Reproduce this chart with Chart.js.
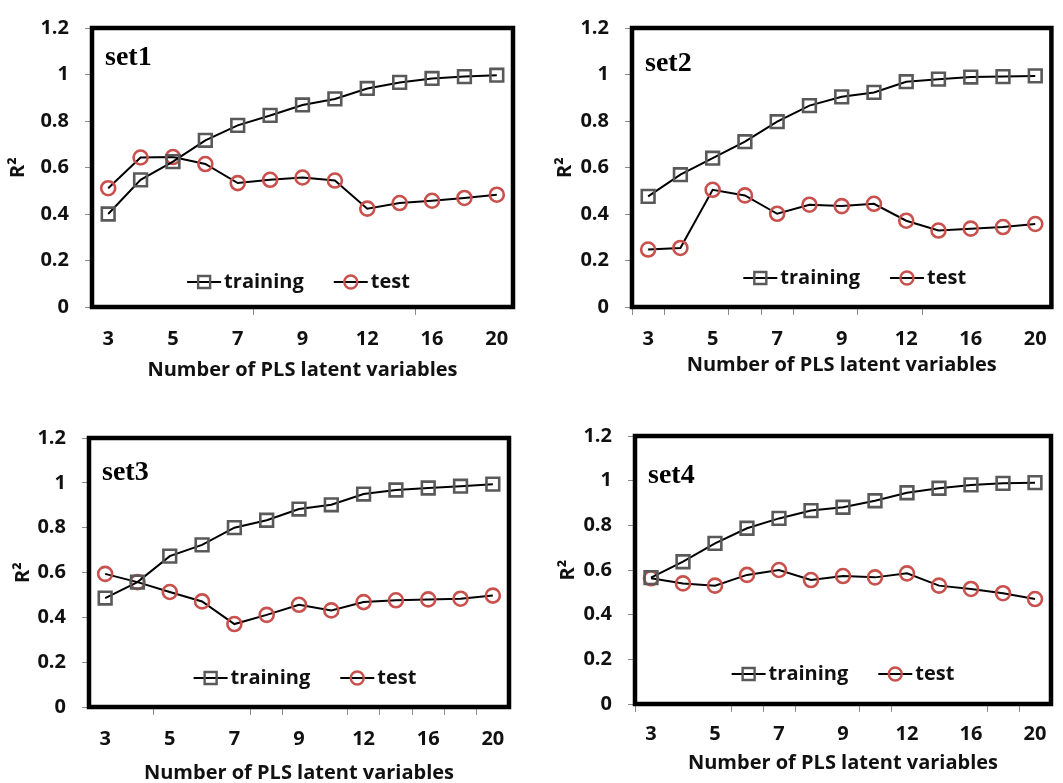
<!DOCTYPE html>
<html>
<head>
<meta charset="utf-8">
<script src="https://cdn.jsdelivr.net/npm/chart.js@4.4.1/dist/chart.umd.min.js"></script>
<style>
    html, body { margin: 0; padding: 0; background: #fff; }
    body { width: 1063px; height: 783px; position: relative; overflow: hidden; }
    canvas { position: absolute; }
</style>
</head>
<body>
<canvas id="set1Chart" width="530" height="390" style="left:0;top:0"></canvas>
<canvas id="set2Chart" width="533" height="390" style="left:530px;top:0"></canvas>
<canvas id="set3Chart" width="530" height="393" style="left:0;top:390px"></canvas>
<canvas id="set4Chart" width="533" height="393" style="left:530px;top:390px"></canvas>
<script>
// number of PLS latent variables (only every other one is labelled)
const latentVars = ['3', '4', '5', '6', '7', '8', '9', '10', '12', '14', '16', '18', '20'];

const set1Training = [0.40, 0.547, 0.625, 0.717, 0.781, 0.824, 0.869, 0.895, 0.94, 0.966, 0.983, 0.991, 0.997];
const set1Test = [0.511, 0.643, 0.645, 0.615, 0.533, 0.547, 0.557, 0.544, 0.423, 0.447, 0.457, 0.469, 0.483];

const set2Training = [0.476, 0.569, 0.64, 0.711, 0.797, 0.866, 0.904, 0.923, 0.969, 0.98, 0.989, 0.991, 0.994];
const set2Test = [0.247, 0.254, 0.504, 0.48, 0.401, 0.44, 0.434, 0.444, 0.371, 0.329, 0.337, 0.344, 0.357];

const set3Training = [0.486, 0.557, 0.673, 0.723, 0.80, 0.833, 0.883, 0.902, 0.95, 0.968, 0.977, 0.985, 0.994];
const set3Test = [0.594, 0.557, 0.513, 0.471, 0.37, 0.411, 0.456, 0.431, 0.468, 0.476, 0.48, 0.483, 0.497];

const set4Training = [0.566, 0.637, 0.719, 0.787, 0.831, 0.866, 0.881, 0.91, 0.946, 0.966, 0.981, 0.988, 0.991];
const set4Test = [0.563, 0.54, 0.53, 0.578, 0.60, 0.555, 0.573, 0.567, 0.585, 0.53, 0.515, 0.496, 0.47];

const FONT = '"Open Sans", Lato, sans-serif';

// thick black frame round the plot area
const framePlugin = {
    id: 'frame',
    beforeDatasetsDraw(chart) {
        const { ctx, chartArea: a } = chart;
        ctx.save();
        ctx.strokeStyle = '#000';
        ctx.lineWidth = 4.5;
        ctx.strokeRect(a.left, a.top, a.right - a.left, a.bottom - a.top);
        ctx.restore();
    }
};

// "setN" tag in the top left corner
const tagPlugin = {
    id: 'tag',
    afterDraw(chart, args, opts) {
        const { ctx, chartArea: a } = chart;
        ctx.save();
        ctx.font = 'bold 28px "Liberation Serif", "DejaVu Serif", serif';
        ctx.fillStyle = '#000';
        ctx.textBaseline = 'alphabetic';
        ctx.fillText(opts.text, a.left + 13, a.top + opts.dy);
        ctx.restore();
    }
};

// legend drawn inside the plot area, near the bottom
const insideLegend = {
    id: 'insideLegend',
    afterDatasetsDraw(chart, args, opts) {
        const { ctx, chartArea: a } = chart;
        const lineLen = 34, gap = 3, itemGap = 30;
        ctx.save();
        ctx.font = 'bold 20px ' + FONT;
        const items = chart.data.datasets.map(ds => ({
            label: ds.label,
            style: ds.pointStyle,
            color: ds.pointBorderColor,
            w: ctx.measureText(ds.label).width
        }));
        let total = 0;
        items.forEach((it, i) => { total += lineLen + gap + it.w + (i ? itemGap : 0); });
        let x = (a.left + a.right) / 2 - total / 2 + opts.dx;
        const y = a.bottom - opts.dy;
        items.forEach(it => {
            ctx.strokeStyle = '#000';
            ctx.lineWidth = 2;
            ctx.beginPath();
            ctx.moveTo(x, y);
            ctx.lineTo(x + lineLen, y);
            ctx.stroke();
            ctx.strokeStyle = it.color;
            ctx.lineWidth = 2.4;
            const cx = x + lineLen / 2;
            ctx.beginPath();
            if (it.style === 'rect') ctx.rect(cx - 6, y - 6, 12, 12);
            else ctx.arc(cx, y, 6.5, 0, Math.PI * 2);
            ctx.stroke();
            ctx.fillStyle = '#111';
            ctx.textBaseline = 'middle';
            ctx.fillText(it.label, x + lineLen + gap, y);
            x += lineLen + gap + it.w + itemGap;
        });
        ctx.restore();
    }
};

function makeChart(id, name, training, test, p) {
    const ctx = document.getElementById(id).getContext('2d');
    return new Chart(ctx, {
        type: 'line',
        data: {
            labels: latentVars,
            datasets: [{
                label: 'training',
                data: training,
                borderColor: '#000',
                borderWidth: 2,
                pointStyle: 'rect',
                pointRadius: 9,
                pointBorderWidth: 2.6,
                pointBorderColor: '#595959',
                pointBackgroundColor: 'rgba(0,0,0,0)',
                tension: 0
            }, {
                label: 'test',
                data: test,
                borderColor: '#000',
                borderWidth: 2,
                pointStyle: 'circle',
                pointRadius: 7,
                pointBorderWidth: 2.6,
                pointBorderColor: '#c8504d',
                pointBackgroundColor: 'rgba(0,0,0,0)',
                tension: 0
            }]
        },
        options: {
            responsive: false,
            animation: false,
            layout: { padding: { top: p.top, right: p.right, bottom: 0, left: 0 } },
            plugins: {
                legend: { display: false },
                tooltip: { enabled: false },
                tag: { text: name, dy: p.tagY },
                insideLegend: { dx: p.legendX, dy: p.legendY }
            },
            scales: {
                x: {
                    offset: true,
                    afterFit: s => { s.height = p.xHeight; },
                    border: { display: false },
                    grid: {
                        offset: true,
                        drawOnChartArea: false,
                        drawTicks: true,
                        tickLength: 8,
                        color: c => p.xMarks.includes(c.index) ? '#8c8c8c' : 'rgba(0,0,0,0)'
                    },
                    ticks: {
                        autoSkip: false,
                        maxRotation: 0,
                        padding: p.xPad,
                        color: '#111',
                        font: { family: FONT, size: 20, weight: 'bold' },
                        callback: (v, i) => i % 2 === 0 ? latentVars[i] : ''
                    },
                    title: {
                        display: true,
                        text: 'Number of PLS latent variables',
                        color: '#111',
                        font: { family: FONT, size: 20, weight: 'bold', lineHeight: 1 },
                        padding: { top: 0, bottom: p.xTitlePad }
                    }
                },
                y: {
                    min: 0,
                    max: 1.2,
                    afterFit: s => { s.width = p.left; },
                    border: { display: false },
                    grid: {
                        drawOnChartArea: false,
                        drawTicks: true,
                        tickLength: 7,
                        color: '#8c8c8c'
                    },
                    ticks: {
                        stepSize: 0.2,
                        padding: 16,
                        color: '#111',
                        font: { family: FONT, size: 20, weight: 'bold' },
                        callback: v => String(Math.round(v * 10) / 10)
                    },
                    title: {
                        display: true,
                        text: 'R²',
                        color: '#111',
                        font: { family: FONT, size: 20, weight: 'bold', lineHeight: 1 },
                        padding: { top: p.yTitlePad, bottom: 0 }
                    }
                }
            }
        },
        plugins: [framePlugin, tagPlugin, insideLegend]
    });
}

makeChart('set1Chart', 'set1', set1Training, set1Test, {
    left: 92, top: 25, right: 17, xHeight: 83, xPad: 12, xTitlePad: 10, yTitlePad: 8,
    tagY: 37, legendX: -4, legendY: 25, xMarks: [5, 10]
});
makeChart('set2Chart', 'set2', set2Training, set2Test, {
    left: 102, top: 25, right: 9, xHeight: 83, xPad: 12, xTitlePad: 15, yTitlePad: 25,
    tagY: 43, legendX: 13, legendY: 29, xMarks: [0, 1, 3, 4, 5, 7, 9]
});
makeChart('set3Chart', 'set3', set3Training, set3Test, {
    left: 89, top: 48, right: 21, xHeight: 76, xPad: 12, xTitlePad: 0, yTitlePad: 13,
    tagY: 42, legendX: 6, legendY: 29, xMarks: [2, 5, 6, 8, 9, 10, 11, 12, 13]
});
makeChart('set4Chart', 'set4', set4Training, set4Test, {
    left: 105, top: 46, right: 12, xHeight: 79, xPad: 10, xTitlePad: 10, yTitlePad: 28,
    tagY: 47, legendX: 0, legendY: 30, xMarks: [0, 3, 4, 5, 7, 8, 11, 12, 13]
});
</script>
</body>
</html>
